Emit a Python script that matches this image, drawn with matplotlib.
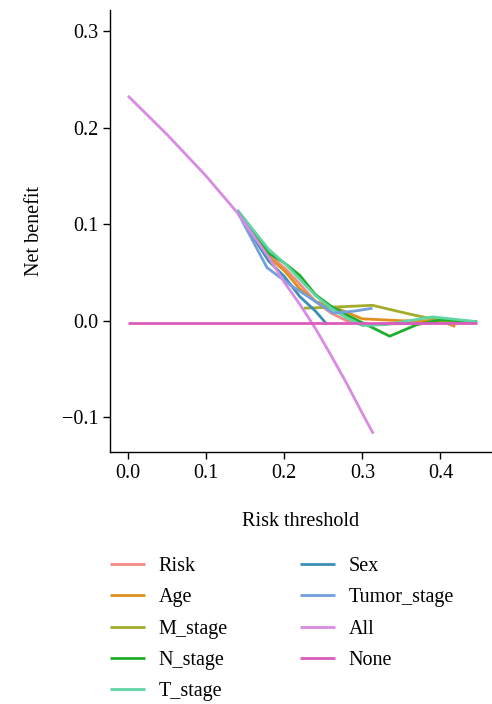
import matplotlib
matplotlib.use("Agg")
import matplotlib.pyplot as plt

plt.rcParams['font.family'] = ['Liberation Serif', 'DejaVu Serif']

# ---- data ----
all_x = [0.0, 0.05, 0.10, 0.14, 0.18, 0.20, 0.22, 0.24, 0.26, 0.28, 0.30, 0.314]
all_y = [0.233, 0.193, 0.150, 0.112, 0.066, 0.040, 0.017, -0.008, -0.036, -0.065, -0.096, -0.117]

none_x = [0.0, 0.447]
none_y = [-0.002, -0.002]

risk_x = [0.14, 0.18, 0.20, 0.22, 0.24, 0.26, 0.28, 0.30, 0.35, 0.40, 0.447]
risk_y = [0.113, 0.068, 0.055, 0.038, 0.020, 0.008, 0.000, -0.004, -0.003, -0.002, -0.002]

age_x = [0.14, 0.18, 0.20, 0.22, 0.24, 0.27, 0.30, 0.35, 0.40, 0.419]
age_y = [0.113, 0.066, 0.052, 0.033, 0.020, 0.012, 0.002, 0.000, 0.000, -0.006]

mstage_x = [0.225, 0.26, 0.313, 0.36, 0.40, 0.447]
mstage_y = [0.013, 0.014, 0.016, 0.007, 0.000, -0.001]

nstage_x = [0.14, 0.18, 0.20, 0.22, 0.24, 0.26, 0.28, 0.30, 0.335, 0.37, 0.40, 0.447]
nstage_y = [0.113, 0.070, 0.060, 0.047, 0.027, 0.015, 0.006, -0.002, -0.016, -0.004, 0.001, -0.001]

tstage_x = [0.14, 0.18, 0.20, 0.22, 0.24, 0.26, 0.28, 0.30, 0.33, 0.39, 0.447]
tstage_y = [0.115, 0.074, 0.060, 0.043, 0.026, 0.013, 0.003, -0.005, -0.004, 0.004, -0.001]

sex_x = [0.14, 0.18, 0.20, 0.22, 0.24, 0.255]
sex_y = [0.113, 0.062, 0.046, 0.025, 0.010, -0.004]

tumor_x = [0.14, 0.178, 0.208, 0.24, 0.263, 0.29, 0.313]
tumor_y = [0.113, 0.055, 0.037, 0.020, 0.008, 0.010, 0.013]

labels = ["Risk", "Age", "M_stage", "N_stage", "T_stage", "Sex", "Tumor_stage", "All", "None"]
colors = ["#f28b82", "#e0901e", "#a3ac2c", "#1fae2c", "#5fd6a4", "#3a8fb7", "#72a0dc", "#d98be3", "#d95cbf"]

series = [(risk_x, risk_y), (age_x, age_y), (mstage_x, mstage_y), (nstage_x, nstage_y),
          (tstage_x, tstage_y), (sex_x, sex_y), (tumor_x, tumor_y), (all_x, all_y), (none_x, none_y)]

FS = 14.5

fig = plt.figure(figsize=(4.92, 7.04), dpi=100)
ax = fig.add_axes([110/492, 1-452/704, 382/492, 442/704])

handles = []
for (x, y), lab, c in zip(series, labels, colors):
    h, = ax.plot(x, y, color=c, lw=2.0, label=lab, solid_capstyle='butt')
    handles.append(h)

ax.set_xlim(-0.023, 0.466)
ax.set_ylim(-0.136, 0.322)
ax.set_xticks([0.0, 0.1, 0.2, 0.3, 0.4])
ax.set_yticks([-0.1, 0.0, 0.1, 0.2, 0.3])
ax.set_xticklabels(["0.0", "0.1", "0.2", "0.3", "0.4"])
ax.set_yticklabels(["\u22120.1", "0.0", "0.1", "0.2", "0.3"])
for s in ['top', 'right']:
    ax.spines[s].set_visible(False)
for s in ['left', 'bottom']:
    ax.spines[s].set_linewidth(1.0)
ax.tick_params(direction='out', length=5, width=1.0, labelsize=FS, colors='black')
ax.set_xlabel("Risk threshold", fontsize=FS, labelpad=21)
ax.set_ylabel("Net benefit", fontsize=FS, labelpad=13)

fig.legend(handles=handles, labels=labels, ncol=2, frameon=False, fontsize=FS,
           loc='upper left', bbox_to_anchor=(92/492, 1-539/704),
           handlelength=1.75, handletextpad=0.65, columnspacing=3.6, labelspacing=0.6)

fig.savefig("out.png", dpi=100)
